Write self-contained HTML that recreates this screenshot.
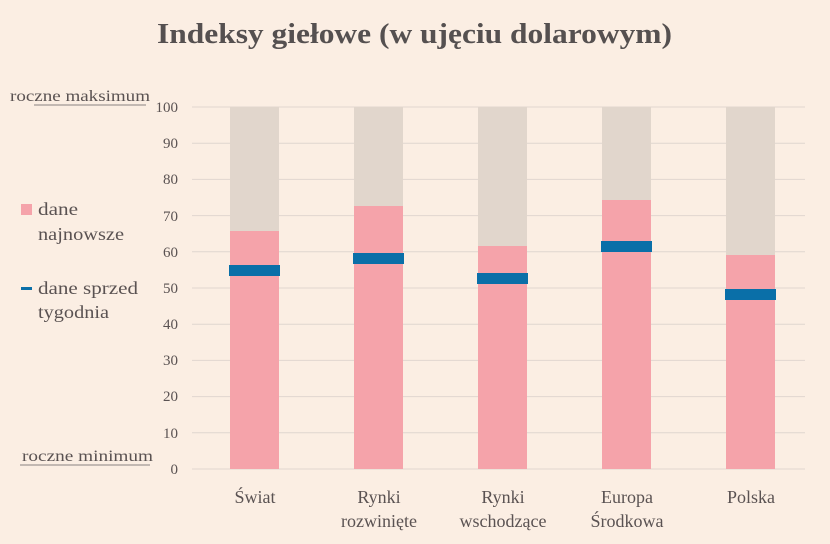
<!DOCTYPE html>
<html><head><meta charset="utf-8"><style>
body{margin:0;background:#fbeee3;}
svg text{font-family:"Liberation Serif","DejaVu Serif",serif;fill:#5a5252;}
</style></head><body>
<svg width="830" height="539" xmlns="http://www.w3.org/2000/svg">
<rect width="830" height="539" fill="#fbeee3"/>
<text x="157" y="43" font-size="28" font-weight="bold" textLength="515" lengthAdjust="spacingAndGlyphs" style="fill:#555050">Indeksy giełowe (w ujęciu dolarowym)</text>
<g stroke="#e0d6cf" stroke-width="1">
<line x1="192" x2="805" y1="107" y2="107"/><line x1="192" x2="805" y1="143.2" y2="143.2"/>
<line x1="192" x2="805" y1="179.4" y2="179.4"/><line x1="192" x2="805" y1="215.6" y2="215.6"/>
<line x1="192" x2="805" y1="251.8" y2="251.8"/><line x1="192" x2="805" y1="288" y2="288"/>
<line x1="192" x2="805" y1="324.2" y2="324.2"/><line x1="192" x2="805" y1="360.4" y2="360.4"/>
<line x1="192" x2="805" y1="396.6" y2="396.6"/><line x1="192" x2="805" y1="432.8" y2="432.8"/>
<line x1="192" x2="805" y1="469" y2="469"/>
</g>
<g font-size="15" text-anchor="end">
<text x="178" y="112">100</text><text x="178" y="148">90</text><text x="178" y="184">80</text>
<text x="178" y="221">70</text><text x="178" y="257">60</text><text x="178" y="293">50</text>
<text x="178" y="329">40</text><text x="178" y="365">30</text><text x="178" y="401">20</text>
<text x="178" y="438">10</text><text x="178" y="474">0</text>
</g>
<text x="10" y="101" font-size="16" textLength="140" lengthAdjust="spacingAndGlyphs">roczne maksimum</text>
<line x1="34" x2="146" y1="105" y2="105" stroke="#8a8282"/>
<text x="22" y="461" font-size="16" textLength="131" lengthAdjust="spacingAndGlyphs">roczne minimum</text>
<line x1="20" x2="150" y1="465" y2="465" stroke="#8a8282"/>
<rect x="21" y="204" width="11" height="11" fill="#f5a3aa"/>
<text x="38" y="215" font-size="18" textLength="40" lengthAdjust="spacingAndGlyphs">dane</text>
<text x="38" y="240" font-size="18" textLength="86" lengthAdjust="spacingAndGlyphs">najnowsze</text>
<rect x="21" y="287" width="11" height="3" fill="#0a6fa8"/>
<text x="38" y="294" font-size="18" textLength="100" lengthAdjust="spacingAndGlyphs">dane sprzed</text>
<text x="38" y="318" font-size="18" textLength="71" lengthAdjust="spacingAndGlyphs">tygodnia</text>
<g fill="#e1d6cc">
<rect x="230" y="107" width="49" height="362"/><rect x="354" y="107" width="49" height="362"/>
<rect x="478" y="107" width="49" height="362"/><rect x="602" y="107" width="49" height="362"/>
<rect x="726" y="107" width="49" height="362"/>
</g>
<g fill="#f5a3aa">
<rect x="230" y="231" width="49" height="238"/><rect x="354" y="206" width="49" height="263"/>
<rect x="478" y="246" width="49" height="223"/><rect x="602" y="200" width="49" height="269"/>
<rect x="726" y="255" width="49" height="214"/>
</g>
<g fill="#0a6fa8">
<rect x="229" y="265" width="51" height="11"/><rect x="353" y="253" width="51" height="11"/>
<rect x="477" y="273" width="51" height="11"/><rect x="601" y="241" width="51" height="11"/>
<rect x="725" y="289" width="51" height="11"/>
</g>
<g font-size="18" text-anchor="middle">
<text x="255" y="503">Świat</text>
<text x="379" y="503">Rynki</text><text x="379" y="527">rozwinięte</text>
<text x="503" y="503">Rynki</text><text x="503" y="527">wschodzące</text>
<text x="627" y="503">Europa</text><text x="627" y="527">Środkowa</text>
<text x="751" y="503">Polska</text>
</g>
</svg>
</body></html>
